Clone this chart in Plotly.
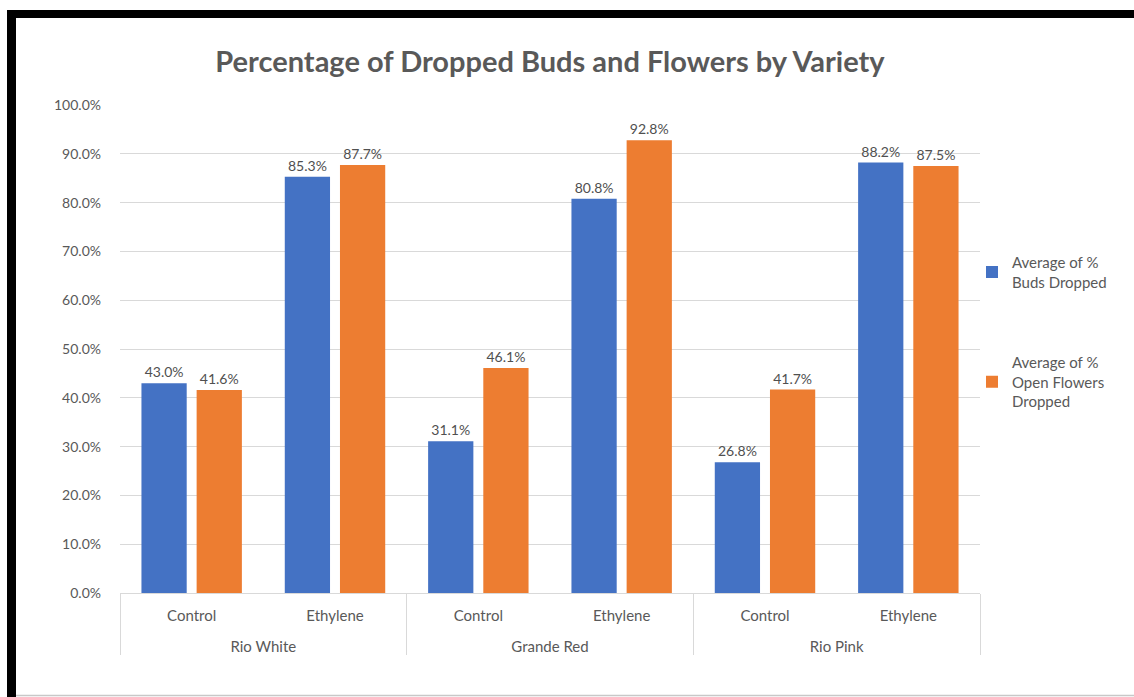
import plotly.graph_objects as go

varieties = ["Rio White", "Rio White", "Grande Red", "Grande Red", "Rio Pink", "Rio Pink"]
treatments = ["Control", "Ethylene", "Control", "Ethylene", "Control", "Ethylene"]
buds_dropped = [0.430, 0.853, 0.311, 0.808, 0.268, 0.882]
flowers_dropped = [0.416, 0.877, 0.461, 0.928, 0.417, 0.875]
series_names = ["Average of %<br>Buds Dropped", "Average of %<br>Open Flowers<br>Dropped"]
y_ticks = [0.0, 0.1, 0.2, 0.3, 0.4, 0.5, 0.6, 0.7, 0.8, 0.9, 1.0]

FONT = "Lato"
GRAY = "#595959"

# extra blank line under the inner labels to open up the gap to the outer level
treatment_labels = [t + "<br><span style='font-size:16px'>&nbsp;</span>" for t in treatments]
x_cats = [varieties, treatment_labels]

fig = go.Figure()
fig.add_trace(go.Bar(
    x=x_cats, y=buds_dropped, name=series_names[0],
    marker=dict(color="#4472C4", line=dict(width=0)),
    texttemplate="%{y:.1%}", textposition="outside",
    textfont=dict(family=FONT, size=14, color="#505050"),
    legendgroup="a",
))
fig.add_trace(go.Bar(
    x=x_cats, y=flowers_dropped, name=series_names[1],
    marker=dict(color="#ED7D31", line=dict(width=0)),
    texttemplate="%{y:.1%}", textposition="outside",
    textfont=dict(family=FONT, size=14, color="#505050"),
    legendgroup="b",
))

L, R, T, B = 120, 980, 105, 593
W, H = 1134, 697
pw, ph = R - L, B - T

def px(x):
    return (x - L) / pw

def py(y):
    return (B - y) / ph

shapes = [
    dict(type="rect", xref="paper", yref="paper", x0=px(7), x1=px(1140), y0=py(10), y1=py(18),
         fillcolor="black", line=dict(width=0), layer="above"),
    dict(type="rect", xref="paper", yref="paper", x0=px(7), x1=px(16), y0=py(10), y1=py(700),
         fillcolor="black", line=dict(width=0), layer="above"),
    dict(type="line", xref="paper", yref="paper", x0=px(16), x1=px(1140), y0=py(695.5), y1=py(695.5),
         line=dict(color="#C8C8C8", width=1.5), layer="above"),
]

fig.update_layout(
    width=W, height=H,
    margin=dict(l=L, r=W - R, t=T, b=H - B),
    paper_bgcolor="white", plot_bgcolor="white",
    font=dict(family=FONT, color=GRAY),
    title=dict(text="<b>Percentage of Dropped Buds and Flowers by Variety</b>",
               x=0.5, xanchor="center", xref="paper", y=1 - 62 / H, yanchor="middle",
               font=dict(family=FONT, size=29, color=GRAY)),
    barmode="group", bargap=0.23, bargroupgap=0.18,
    showlegend=True,
    legend=dict(x=px(972), y=py(246), xanchor="left", yanchor="top",
                font=dict(family=FONT, size=15, color=GRAY),
                tracegroupgap=58, itemwidth=30, bgcolor="rgba(0,0,0,0)"),
    shapes=shapes,
)
fig.update_yaxes(range=[0, 1.0], tickvals=y_ticks, tickformat=".1%",
                 showgrid=True, gridcolor="#D9D9D9", gridwidth=1,
                 zeroline=False, showline=False, ticks="",
                 tickfont=dict(family=FONT, size=14, color=GRAY), ticklabelstandoff=18)
fig.update_xaxes(type="multicategory", showline=True, linecolor="#D9D9D9", linewidth=1,
                 showdividers=True, dividercolor="#D9D9D9", dividerwidth=1,
                 ticks="", ticklabelstandoff=9,
                 tickfont=dict(family=FONT, size=15, color=GRAY))

fig.write_html("out.html")
